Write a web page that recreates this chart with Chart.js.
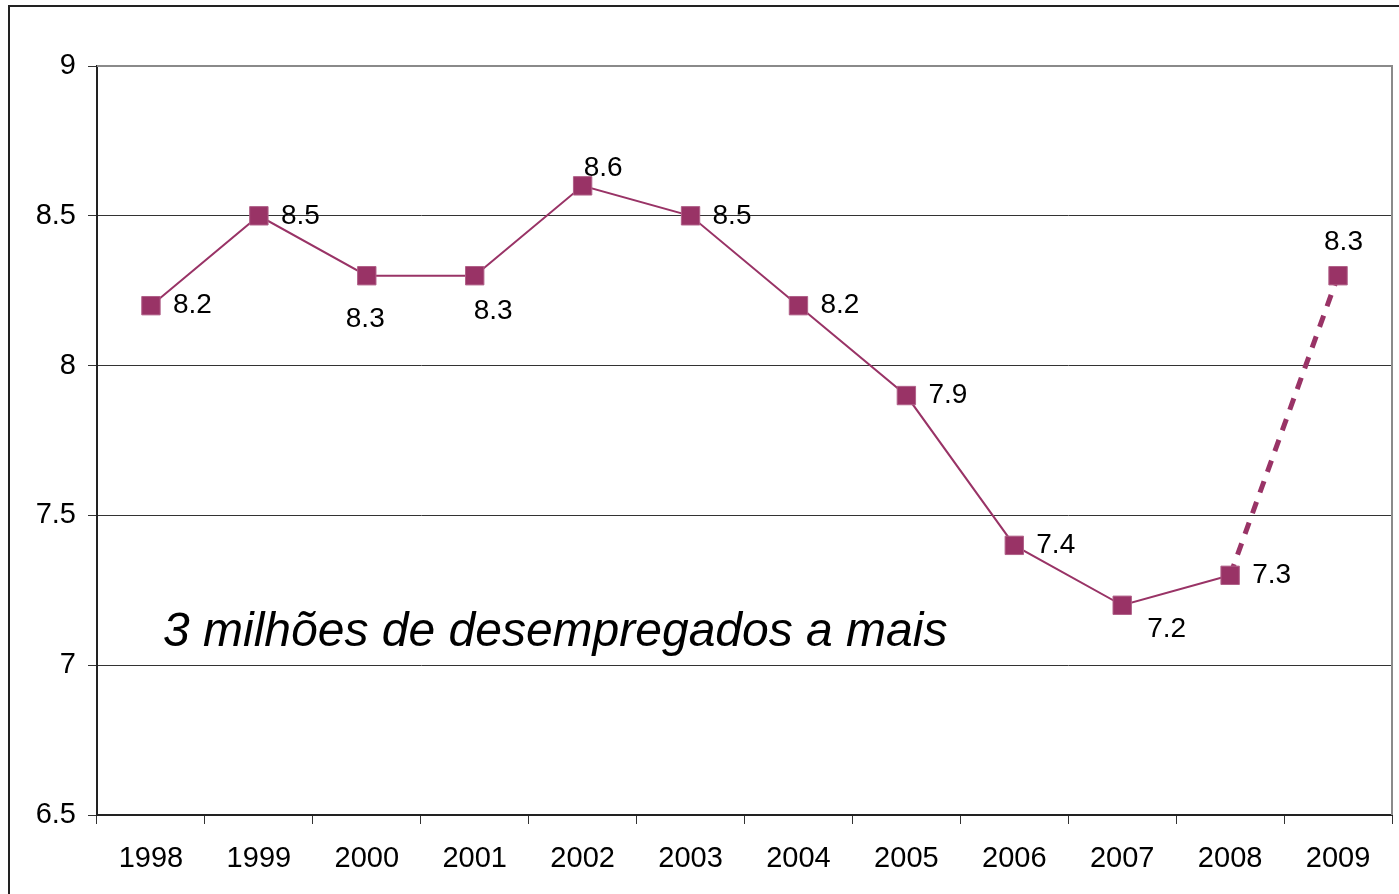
<!DOCTYPE html>
<html>
<head>
<meta charset="utf-8">
<script src="https://cdn.jsdelivr.net/npm/chart.js@4/dist/chart.umd.min.js"></script>
<style>
  html, body { margin: 0; padding: 0; background: #ffffff; overflow: hidden; }
  #wrap { width: 1399px; height: 894px; position: relative; }
  canvas { display: block; }
</style>
</head>
<body>
<div id="wrap"><canvas id="c" width="1399" height="894"></canvas></div>
<script>
// ---- data ----
const years = ['1998','1999','2000','2001','2002','2003','2004','2005','2006','2007','2008','2009'];
const unemployment = [8.2, 8.5, 8.3, 8.3, 8.6, 8.5, 8.2, 7.9, 7.4, 7.2, 7.3, 8.3];
const yTicks = [6.5, 7, 7.5, 8, 8.5, 9];
const annotationText = '3 milhões de desempregados a mais';

// ---- styling ----
const lineColor = '#993366';
const fontFamily = '"Liberation Sans", Arial, sans-serif';
// label offsets [dx, dy] from the point (left aligned, middle baseline)
const labelOffsets = [[22,0],[22,0],[-21,44],[-1,36],[1,-18],[22,0],[22,0],[22,0],[22,0],[25,24],[22,0],[-14,-33]];

const frame = {
  id: 'frame',
  beforeDraw(chart) {
    const ctx = chart.ctx;
    ctx.save();
    ctx.fillStyle = '#fff';
    ctx.fillRect(0, 0, chart.width, chart.height);
    ctx.strokeStyle = '#222';
    ctx.lineWidth = 2;
    ctx.strokeRect(9, 6, 3000, 3000);
    ctx.restore();
  },
  afterDraw(chart) {
    const a = chart.chartArea, ctx = chart.ctx;
    ctx.save();
    ctx.strokeStyle = '#8a8a8a';
    ctx.lineWidth = 2;
    ctx.beginPath();
    ctx.moveTo(a.left, a.top); ctx.lineTo(a.right, a.top); ctx.lineTo(a.right, a.bottom);
    ctx.stroke();
    ctx.restore();
  }
};

const labels = {
  id: 'pointLabels',
  afterDatasetsDraw(chart) {
    const ctx = chart.ctx;
    const meta = chart.getDatasetMeta(0);
    ctx.save();
    ctx.font = '28px ' + fontFamily;
    ctx.fillStyle = '#000';
    ctx.textAlign = 'left';
    ctx.textBaseline = 'middle';
    meta.data.forEach((pt, i) => {
      const o = labelOffsets[i];
      ctx.fillText(String(unemployment[i]), pt.x + o[0], pt.y + o[1]);
    });
    // annotation
    const a = chart.chartArea;
    ctx.font = 'italic 48px ' + fontFamily;
    ctx.fillText(annotationText, a.left + 66, chart.scales.y.getPixelForValue(7.11));
    ctx.restore();
  }
};

new Chart(document.getElementById('c'), {
  type: 'line',
  data: {
    labels: years,
    datasets: [{
      data: unemployment,
      borderColor: lineColor,
      backgroundColor: lineColor,
      borderWidth: 2,
      pointStyle: 'rect',
      pointRadius: 13,
      pointHoverRadius: 13,
      pointBorderWidth: 1,
      pointBorderColor: '#b06088',
      tension: 0,
      segment: {
        borderDash: c => c.p0DataIndex === unemployment.length - 2 ? [12, 10] : undefined,
        borderWidth: c => c.p0DataIndex === unemployment.length - 2 ? 5 : 2
      }
    }]
  },
  options: {
    responsive: false,
    animation: false,
    devicePixelRatio: 1,
    layout: { autoPadding: false, padding: { left: 0, right: 7, top: 66, bottom: 0 } },
    plugins: { legend: { display: false }, tooltip: { enabled: false } },
    scales: {
      x: {
        offset: true,
        grid: { offset: true, drawOnChartArea: false, drawTicks: true, tickLength: 9, color: '#333', lineWidth: 1 },
        border: { color: '#222', width: 2 },
        ticks: { color: '#000', font: { family: fontFamily, size: 29 }, padding: 18, maxRotation: 0 },
        afterFit(s) { s.height = 79; s.paddingRight = 0; s.paddingLeft = 0; }
      },
      y: {
        min: 6.5, max: 9,
        afterBuildTicks(s) { s.ticks = yTicks.map(v => ({ value: v })); },
        grid: { color: '#333', lineWidth: 1, tickLength: 9 },
        border: { color: '#222', width: 2 },
        ticks: { color: '#000', font: { family: fontFamily, size: 29 }, padding: 12, callback: v => String(v) },
        afterFit(s) { s.width = 97; s.paddingTop = 0; s.paddingBottom = 0; }
      }
    }
  },
  plugins: [frame, labels]
});
</script>
</body>
</html>
